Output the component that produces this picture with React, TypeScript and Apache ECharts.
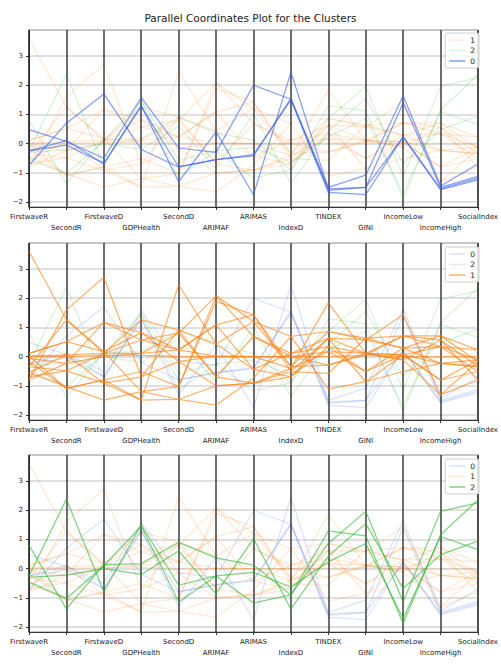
import React, { useEffect, useRef } from 'react';
import * as echarts from 'echarts';

const categories = [
  'FirstwaveR', 'SecondR', 'FirstwaveD', 'GDPHealth', 'SecondD', 'ARIMAF',
  'ARIMAS', 'IndexD', 'TINDEX', 'GINI', 'IncomeLow', 'IncomeHigh', 'SocialIndex',
];

// cluster 0 (blue)
const cluster0 = [
  [0.48, 0.08, -0.5, 1.58, -0.15, -0.3, 2.0, 1.52, -1.5, -1.08, 1.64, -1.45, -0.7],
  [-0.25, 0.1, -0.68, 1.28, -0.8, -0.55, -0.42, 1.55, -1.6, -1.5, 1.4, -1.5, -1.12],
  [-0.75, 0.7, 1.7, -0.2, -0.8, -0.55, -0.38, 1.5, -1.67, -1.75, 0.24, -1.55, -1.18],
  [-0.25, -0.05, -0.68, 1.3, -1.31, 0.4, -1.75, 2.45, -1.55, -1.5, 0.22, -1.58, -1.24],
];

// cluster 1 (orange)
const cluster1 = [
  [3.6, 1.26, 0.11, 0.57, 0.23, 0.02, 0.0, 0.0, 0.17, 0.11, 0.06, 0.34, -0.11],
  [-0.8, 1.6, 2.72, -0.69, 0.91, -0.69, -0.91, -0.4, 1.85, 0.11, 0.71, 0.57, -0.34],
  [0.11, 0.51, 1.17, 0.82, 0.23, 1.09, 1.43, -0.51, 0.63, 0.57, 1.43, -1.31, -0.17],
  [0.02, 0.06, -0.91, -1.49, 2.46, 0.43, 1.2, 0.69, 0.86, 0.63, 0.71, 0.71, 0.23],
  [-0.06, -0.23, 0.0, 0.11, 0.8, 2.08, 0.69, 0.11, 0.34, -0.51, 0.29, 0.34, -0.51],
  [-0.17, -1.09, -0.8, -0.51, -1.03, 1.89, 1.43, -0.34, -0.29, 0.11, 0.06, -0.23, -0.34],
  [-0.34, -0.49, 0.11, 1.26, 0.91, 0.43, -0.43, -0.69, 0.63, 0.11, -0.11, 0.57, -0.8],
  [-0.55, -1.03, -1.49, -1.2, -1.46, -1.66, -0.74, 0.69, -1.11, -0.86, -0.51, -0.23, -0.11],
  [-0.69, -0.49, -0.91, -0.69, -0.17, -1.0, -0.91, -0.51, -0.57, 0.63, 0.29, 0.71, -0.17],
  [0.11, 0.51, 0.17, 0.82, -0.17, 0.02, 0.0, -0.4, 0.17, -0.51, 0.06, -0.8, -0.51],
  [-0.8, -0.23, 1.17, 0.57, 0.8, -0.69, 0.69, 0.0, -0.29, 0.06, 0.71, 0.34, 0.23],
  [-0.34, 1.26, 0.17, -1.2, -1.03, 2.08, 1.2, -0.34, 0.86, 0.57, 0.29, -0.23, -0.34],
  [0.02, -1.09, -0.8, -1.49, -1.46, -1.0, -0.91, -0.69, 0.34, 0.11, -0.11, -1.31, -0.8],
  [-0.55, 0.06, 0.11, 0.11, 0.23, 1.09, -0.43, 0.11, 0.63, -0.86, 0.06, -0.8, -0.11],
  [0.02, 0.0, 0.04, 0.04, 0.0, 0.0, 0.0, 0.0, 0.0, 0.04, 0.0, 0.0, 0.0],
];

// cluster 2 (green)
const cluster2 = [
  [0.8, -1.38, 0.14, 0.17, 0.9, 0.37, 0.12, -0.9, 0.86, 1.96, -1.14, 1.96, 2.25],
  [-0.25, 2.38, -0.8, 1.5, -0.57, -0.25, -1.18, -0.9, 1.29, 1.12, -1.88, 1.16, 2.35],
  [-0.3, -0.22, 0.0, -0.2, 0.6, -0.86, 1.03, -1.38, 0.43, 1.54, -0.68, 0.48, 0.94],
  [-0.46, -1.02, 0.1, 1.45, -1.14, -0.25, -0.13, -0.63, 0.23, 0.86, -1.71, 1.1, 0.65],
];

const panelOrders = [
  ['1', '2', '0'],
  ['0', '2', '1'],
  ['0', '1', '2'],
];

const clusterLines: Record<string, number[][]> = { '0': cluster0, '1': cluster1, '2': cluster2 };
const clusterRGB: Record<string, string> = {
  '0': '55,95,235',
  '1': '255,127,14',
  '2': '44,180,44',
};

const gridTops = [30, 243, 455];
const gridHeight = 177;
const legendTops = [33, 247, 459];
const FONT = 'DejaVu Sans';

export default function App() {
  const ref = useRef<HTMLDivElement>(null);
  useEffect(() => {
    if (!ref.current) return;
    const chart = echarts.init(ref.current, undefined, { renderer: 'svg' });

    const grids: any[] = [];
    const xAxes: any[] = [];
    const yAxes: any[] = [];
    const legends: any[] = [];
    const series: any[] = [];

    panelOrders.forEach((order, p) => {
      grids.push({
        left: 29, right: 19, top: gridTops[p], height: gridHeight,
        show: true, borderColor: '#333', borderWidth: 1, backgroundColor: '#fff',
      });
      xAxes.push({
        type: 'category', gridIndex: p, data: categories, boundaryGap: false,
        axisLine: { show: true, onZero: false, lineStyle: { color: '#333', width: 1 } },
        axisTick: { show: true, interval: 0, length: 3, lineStyle: { color: '#333' } },
        axisLabel: {
          interval: 0, fontSize: 7, fontFamily: FONT, color: '#222', margin: 4, lineHeight: 11,
          formatter: (v: string, i: number) => (i % 2 === 1 ? '\n' + v : v),
        },
        splitLine: { show: true, interval: 0, lineStyle: { color: 'rgba(40,40,40,0.85)', width: 1.6 } },
        z: 3,
      });
      yAxes.push({
        type: 'value', gridIndex: p, min: -2.17, max: 3.89,
        axisLine: { show: true, lineStyle: { color: '#333' } },
        axisTick: { show: true, length: 3, lineStyle: { color: '#333' } },
        axisLabel: {
          fontSize: 7, fontFamily: FONT, color: '#222', margin: 6,
          showMinLabel: false, showMaxLabel: false,
          formatter: (v: number) => (Math.abs(v - Math.round(v)) < 1e-6 ? String(Math.round(v)).replace('-', '\u2212') : ''),
        },
        splitLine: { show: true, lineStyle: { color: '#d6d6d6', width: 1.5 } },
      });

      order.forEach((c, k) => {
        const highlight = k === order.length - 1;
        const alpha = highlight ? 0.6 : 0.18;
        const col = `rgba(${clusterRGB[c]},${alpha})`;
        clusterLines[c].forEach((line) => {
          series.push({
            type: 'line', name: `p${p}-${c}`, xAxisIndex: p, yAxisIndex: p,
            data: line, symbol: 'none', showSymbol: false, silent: true,
            lineStyle: { color: col, width: 1.25 }, itemStyle: { color: col },
            z: highlight ? 4 : 2,
          });
        });
      });

      legends.push({
        orient: 'vertical', right: 22, top: legendTops[p],
        data: order.map((c) => `p${p}-${c}`),
        formatter: (name: string) => name.split('-')[1],
        icon: 'rect', itemWidth: 16, itemHeight: 1.5, itemGap: 2.5,
        textStyle: { fontSize: 7.5, fontFamily: FONT, color: '#222' },
        backgroundColor: 'rgba(255,255,255,0.85)', borderColor: '#ccc', borderWidth: 1,
        borderRadius: 2, padding: [3, 4, 3, 4], selectedMode: false,
      });
    });

    chart.setOption({
      animation: false,
      backgroundColor: '#fff',
      title: {
        text: 'Parallel Coordinates Plot for the Clusters', left: 'center', top: 7,
        textStyle: { fontSize: 10.5, fontWeight: 'normal', fontFamily: FONT, color: '#222' },
      },
      legend: legends,
      grid: grids,
      xAxis: xAxes,
      yAxis: yAxes,
      series,
    });
    return () => chart.dispose();
  }, []);

  return (
    <div
      ref={ref}
      style={{ position: 'absolute', left: 0, top: 0, width: 501, height: 668, background: '#fff' }}
    />
  );
}
